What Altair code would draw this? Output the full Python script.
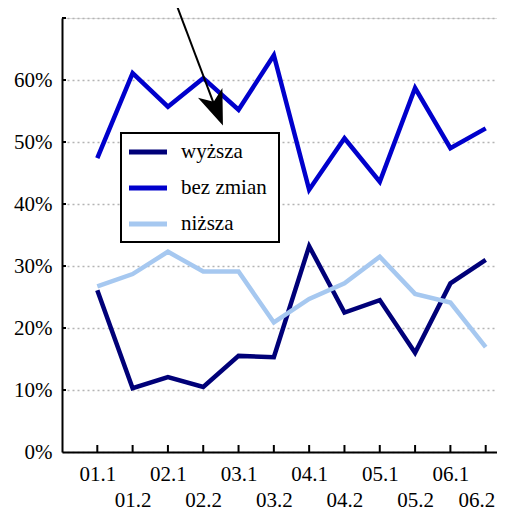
import altair as alt
import pandas as pd

periods = ["01.1", "01.2", "02.1", "02.2", "03.1", "03.2",
           "04.1", "04.2", "05.1", "05.2", "06.1", "06.2"]
wyzsza = [26.1, 10.3, 12.1, 10.5, 15.5, 15.3, 33.2, 22.5, 24.5, 16.0, 27.2, 31.0]
bez_zmian = [47.4, 61.1, 55.7, 60.3, 55.2, 64.0, 42.3, 50.6, 43.6, 58.7, 49.0, 52.2]
nizsza = [26.7, 28.7, 32.3, 29.1, 29.1, 20.9, 24.7, 27.2, 31.5, 25.5, 24.1, 16.9]
series_names = ["wyższa", "bez zmian", "niższa"]
series_colors = ["#000078", "#0000CC", "#A6C8F0"]
y_ticks = [0, 10, 20, 30, 40, 50, 60, 70]

# annotation arrow (data coordinates)
arrow_x = [3.14, 4.47]
arrow_y = [73.7, 53.6]
head_x = [4.377]
head_y = [55.3]

FONT = "Liberation Serif, DejaVu Serif, serif"
FS = 21

rows = []
for name, vals in zip(series_names, [wyzsza, bez_zmian, nizsza]):
    for i, (p, v) in enumerate(zip(periods, vals)):
        rows.append({"idx": i + 1, "period": p, "value": v, "series": name})
df = pd.DataFrame(rows)
df_xt = pd.DataFrame({"idx": list(range(1, len(periods) + 1))})
df_yt = pd.DataFrame({"value": y_ticks[1:]})
df_arrow = pd.DataFrame({"idx": arrow_x, "value": arrow_y})
df_head = pd.DataFrame({"idx": head_x, "value": head_y})
one = pd.DataFrame({"k": [0]})

x_scale = alt.Scale(domain=[0, 12.32], nice=False, zero=False)
y_scale = alt.Scale(domain=[0, 70], nice=False)

label_array = "[" + ",".join(f"'{p}'" for p in periods) + "]"
x_axis = alt.Axis(
    values=list(range(1, len(periods) + 1)),
    labelExpr=f"datum.value % 2 == 1 ? [{label_array}[datum.value-1], ''] : ['', {label_array}[datum.value-1]]",
    ticks=False, grid=False, domainColor="black", domainWidth=2,
    labelPadding=11, labelLineHeight=26, labelFont=FONT, labelFontSize=FS,
    labelColor="black", title=None, labelAngle=0, labelOverlap=False,
    labelFlush=15, labelFlushOffset=9, labelBound=False,
)
y_axis = alt.Axis(
    values=y_ticks,
    labelExpr="datum.value >= 70 ? '' : datum.value + '%'",
    grid=True, gridDash=[2, 3], gridColor="#b4b4b4", gridWidth=1.5,
    domainColor="black", domainWidth=2, ticks=False, labelPadding=10,
    labelFont=FONT, labelFontSize=FS, labelColor="black", title=None,
)

x_enc = alt.X("idx:Q", scale=x_scale, axis=x_axis)
y_enc = alt.Y("value:Q", scale=y_scale, axis=y_axis)

lines = alt.Chart(df).mark_line(strokeWidth=4.5, strokeJoin="miter").encode(
    x=x_enc, y=y_enc,
    color=alt.Color(
        "series:N",
        scale=alt.Scale(domain=series_names, range=series_colors),
        legend=None,
    ),
    order=alt.Order("idx:Q"),
)

xticks = alt.Chart(df_xt).mark_rule(color="black", strokeWidth=2).encode(
    x=x_enc, y=alt.value(427), y2=alt.value(434)
)
yticks = alt.Chart(df_yt).mark_rule(color="black", strokeWidth=2).encode(
    y=y_enc, x=alt.value(0), x2=alt.value(4)
)
arrow = alt.Chart(df_arrow).mark_line(color="black", strokeWidth=2).encode(
    x=x_enc, y=y_enc
)
head = alt.Chart(df_head).mark_point(
    shape="M0,-1 L0.75,1 L0,0.45 L-0.75,1 Z", filled=True, color="black",
    size=1225, angle=158.6, opacity=1, strokeWidth=0,
).encode(x=x_enc, y=y_enc)

# legend box (plot-area pixel positions)
LEG_L, LEG_R, LEG_T, LEG_B = 59, 217, 115, 224
ROW0, ROW_STEP = 134, 36
SYM_L, SYM_R, TXT_X = 67, 105, 119

legend_layers = [
    alt.Chart(one).mark_rect(fill="white", stroke="black", strokeWidth=2).encode(
        x=alt.value(LEG_L), x2=alt.value(LEG_R), y=alt.value(LEG_T), y2=alt.value(LEG_B)
    )
]
for k, (name, col) in enumerate(zip(series_names, series_colors)):
    yy = ROW0 + ROW_STEP * k
    legend_layers.append(
        alt.Chart(one).mark_rule(color=col, strokeWidth=5, strokeCap="butt").encode(
            x=alt.value(SYM_L), x2=alt.value(SYM_R), y=alt.value(yy)
        )
    )
    legend_layers.append(
        alt.Chart(one).mark_text(
            text=name, font=FONT, fontSize=FS, color="black",
            align="left", baseline="middle",
        ).encode(x=alt.value(TXT_X), y=alt.value(yy))
    )

chart = alt.layer(xticks, yticks, lines, *legend_layers, arrow, head).properties(
    width=435, height=434,
    autosize=alt.AutoSizeParams(type="none"),
    padding={"left": 54, "top": 10, "right": 0, "bottom": 60},
).configure_view(stroke=None).configure(font=FONT)

chart.save("out.html", embed_options={"renderer": "svg", "actions": False})
